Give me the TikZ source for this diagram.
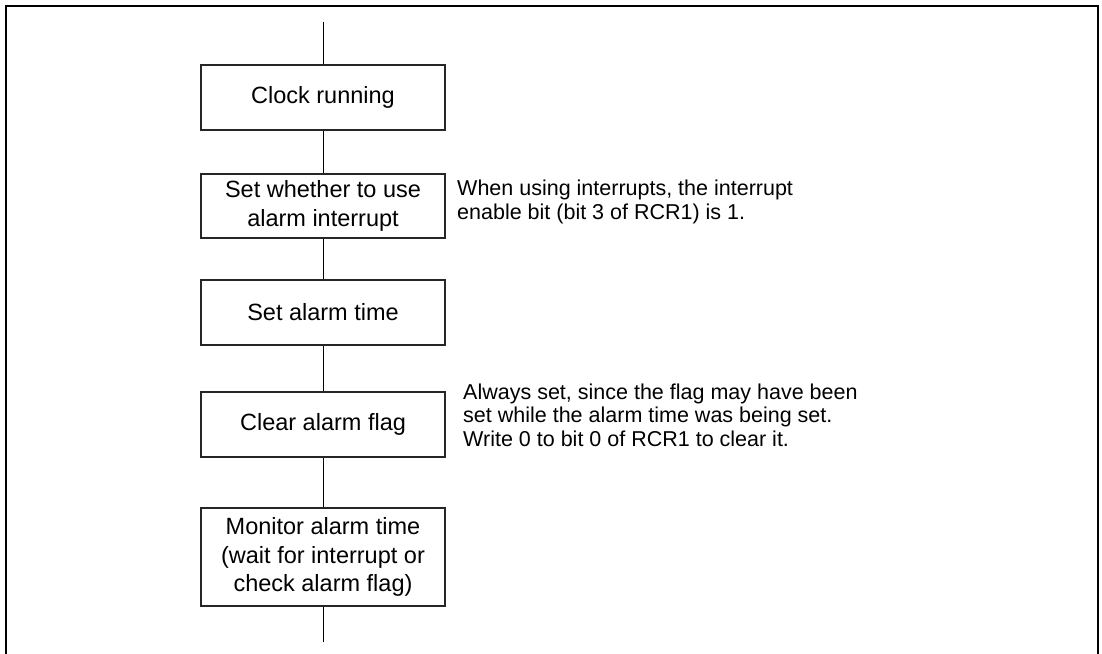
\documentclass[tikz,border=0pt]{standalone}
\usepackage{fontspec}
\setmainfont{Liberation Sans}
\begin{document}
\begin{tikzpicture}[x=1pt,y=-1pt,
  stepbox/.style={draw=black!85,line width=1.1pt,minimum width=244pt,inner sep=0pt,align=center,
    font=\fontsize{23.5}{28.5}\selectfont},
  note/.style={anchor=west,align=left,inner sep=0pt,font=\fontsize{21.5}{23.5}\selectfont},
  link/.style={line width=1pt}]
\useasboundingbox (0,0) rectangle (1102,653);
\fill[white] (0,0) rectangle (1102,653);
\draw[line width=2.8pt] (6,660) -- (6,6) -- (1098,6) -- (1098,660);

\node[stepbox,minimum height=65pt] (s1) at (323,97.5) {Clock running};
\node[stepbox,minimum height=64pt] (s2) at (323,206) {Set whether to use\\alarm interrupt};
\node[stepbox,minimum height=65pt] (s3) at (323,312.5) {Set alarm time};
\node[stepbox,minimum height=65pt] (s4) at (323,424.5) {Clear alarm flag};
\node[stepbox,minimum height=98pt] (s5) at (323,557) {Monitor alarm time\\(wait for interrupt or\\check alarm flag)};

\coordinate (top) at (323,22);
\coordinate (bot) at (323,642);

\draw[link] (top) -- (s1.north);
\draw[link] (s1.south) -- (s2.north);
\draw[link] (s2.south) -- (s3.north);
\draw[link] (s3.south) -- (s4.north);
\draw[link] (s4.south) -- (s5.north);
\draw[link] (s5.south) -- (bot);

\node[note] (n1) at (457,202) {When using interrupts, the interrupt\\enable bit (bit 3 of RCR1) is 1.};
\node[note] (n2) at (463,415) {Always set, since the flag may have been\\set while the alarm time was being set.\\Write 0 to bit 0 of RCR1 to clear it.};
\end{tikzpicture}
\end{document}
